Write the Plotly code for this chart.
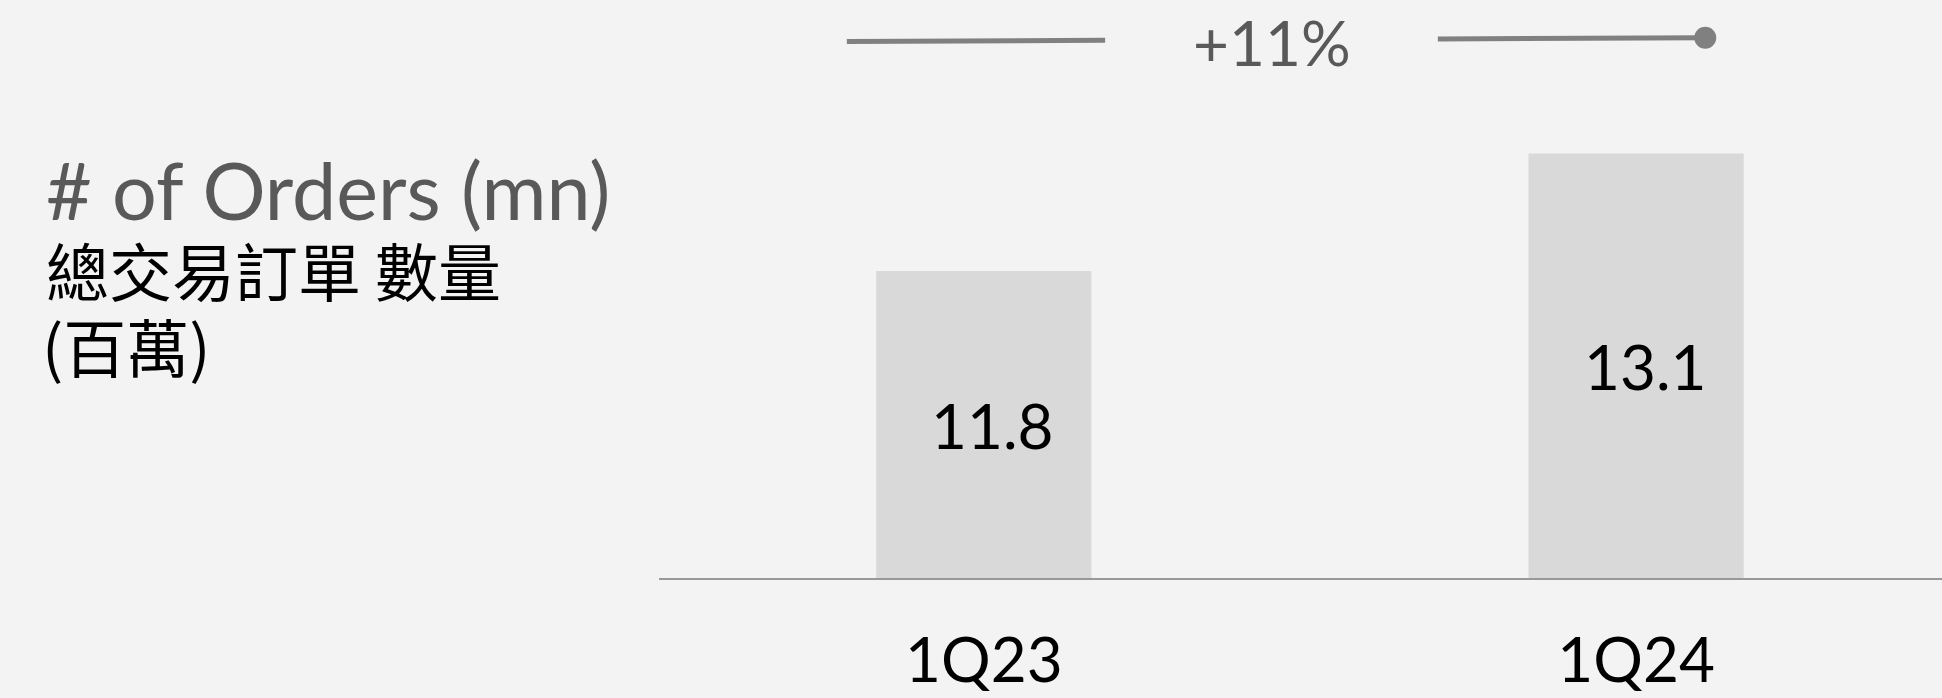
import plotly.graph_objects as go

categories = ["1Q23", "1Q24"]
orders_mn = [11.8, 13.1]
value_labels = ["11.8", "13.1"]
growth_label = "+11%"
title_en = "# of Orders (mn)"
title_zh_1 = "總交易訂單 數量"
title_zh_2 = "(百萬)"

W, H = 1942, 698
ML, MR, MT, MB = 659, 0, 0, 120
PW, PH = W - ML - MR, H - MT - MB
Y_MIN, Y_MAX = 8.404, 14.798

def px_x(px):
    return (px - ML) / PW

def px_y(py):
    return (H - MB - py) / PH

LAT = "Lato, 'Open Sans', sans-serif"
CJK = "'Noto Sans CJK TC', 'Noto Sans CJK SC', sans-serif"

fig = go.Figure()
fig.add_trace(go.Bar(
    x=categories, y=orders_mn,
    marker=dict(color="#d9d9d9", line=dict(width=0)),
    width=0.33, hoverinfo="skip",
))

# value labels centred in the visible part of each bar
for cat, val, lab in zip(categories, orders_mn, value_labels):
    fig.add_annotation(text=lab, x=cat, y=(Y_MIN + val) / 2, xref="x", yref="y",
                       xanchor="center", yanchor="middle", xshift=9, showarrow=False,
                       font=dict(family=LAT, size=62, color="#000000"))

fig.update_layout(
    width=W, height=H,
    margin=dict(l=ML, r=MR, t=MT, b=MB, pad=0, autoexpand=False),
    paper_bgcolor="#f3f3f3", plot_bgcolor="#f3f3f3",
    showlegend=False,
)
fig.update_xaxes(
    type="category", range=[-0.498, 1.469], automargin=False,
    showline=True, linecolor="#999999", linewidth=2,
    showgrid=False, zeroline=False, ticks="",
    tickfont=dict(family=LAT, size=62, color="#000000"),
    ticklabelstandoff=28,
)
fig.update_yaxes(range=[Y_MIN, Y_MAX], visible=False, showgrid=False,
                 zeroline=False, automargin=False)

# growth indicator
line_color = "#808080"
fig.add_shape(type="line", xref="x", yref="paper",
              x0=-0.21, x1=0.186, y0=px_y(41.5), y1=px_y(40.3),
              line=dict(color=line_color, width=5))
fig.add_shape(type="line", xref="x", yref="paper",
              x0=0.696, x1=1.106, y0=px_y(39.0), y1=px_y(37.8),
              line=dict(color=line_color, width=5))
fig.add_shape(type="circle", xref="x", yref="paper",
              xsizemode="pixel", ysizemode="pixel",
              xanchor=1.106, yanchor=px_y(37.8),
              x0=-11, x1=11, y0=-11, y1=11,
              fillcolor=line_color, line=dict(width=0))
fig.add_annotation(text=growth_label, xref="paper", yref="paper",
                   x=px_x(1272), y=px_y(42), xanchor="center", yanchor="middle",
                   showarrow=False, font=dict(family=LAT, size=62, color="#595959"))

# title block
fig.add_annotation(text=title_en, xref="paper", yref="paper",
                   x=px_x(44), y=px_y(189), xanchor="left", yanchor="middle",
                   showarrow=False, font=dict(family=LAT, size=79, color="#595959"))
fig.add_annotation(text=title_zh_1, xref="paper", yref="paper",
                   x=px_x(44), y=px_y(268), xanchor="left", yanchor="middle",
                   showarrow=False, font=dict(family=CJK, size=63, color="#000000"))
fig.add_annotation(text=title_zh_2, xref="paper", yref="paper",
                   x=px_x(40), y=px_y(345), xanchor="left", yanchor="middle",
                   showarrow=False, font=dict(family=CJK, size=63, color="#000000"))

fig.write_html("out.html", config={"displayModeBar": False},
               post_script="document.body.style.margin='0';document.body.style.background='#f3f3f3';")
